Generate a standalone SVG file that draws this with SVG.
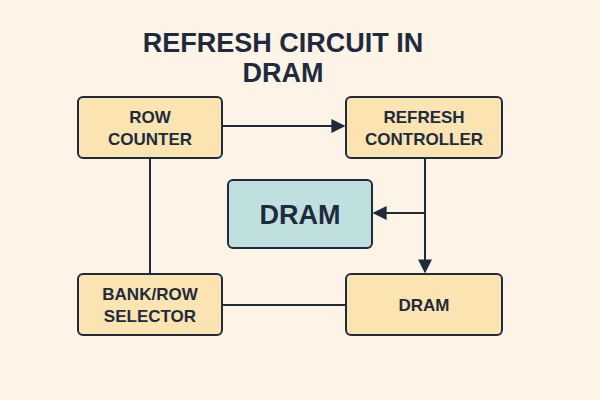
<svg xmlns="http://www.w3.org/2000/svg" width="600" height="400" viewBox="0 0 600 400">
<defs>
<marker id="ah" viewBox="0 0 10 10" refX="9" refY="5" markerWidth="7" markerHeight="7" orient="auto"><path d="M0,0 L10,5 L0,10 z" fill="#1f2b3d"/></marker>
<style>
.n{fill:#fbe4b2;stroke:#1f2b3d;stroke-width:2}
.b{fill:#bfe0df;stroke:#1f2b3d;stroke-width:2}
.t{font-family:"Liberation Sans",Arial,sans-serif;font-weight:bold;fill:#1f2b3d;text-anchor:middle}
.c{stroke:#1f2b3d;stroke-width:2;fill:none}
</style>
</defs>
<rect width="600" height="400" fill="#fdf3e6"/>
<text class="t" x="283" y="52" font-size="27">REFRESH CIRCUIT IN</text>
<text class="t" x="283" y="82" font-size="27">DRAM</text>
<g id="connectors">
<line class="c" x1="222" y1="126" x2="344" y2="126" marker-end="url(#ah)"/>
<line class="c" x1="425" y1="158" x2="425" y2="272" marker-end="url(#ah)"/>
<line class="c" x1="425" y1="213" x2="374" y2="213" marker-end="url(#ah)"/>
<line class="c" x1="150" y1="158" x2="150" y2="274"/>
<line class="c" x1="222" y1="305" x2="346" y2="305"/>
</g>
<g id="row-counter"><rect class="n" x="78" y="97" width="144" height="61" rx="5"/><text class="t" x="150" y="123" font-size="17">ROW</text><text class="t" x="150" y="145" font-size="17">COUNTER</text></g>
<g id="refresh-controller"><rect class="n" x="346" y="97" width="156" height="61" rx="5"/><text class="t" x="424" y="123" font-size="17">REFRESH</text><text class="t" x="424" y="145" font-size="17">CONTROLLER</text></g>
<g id="dram-main"><rect class="b" x="228" y="180" width="144" height="68" rx="5"/><text class="t" x="300" y="224" font-size="27">DRAM</text></g>
<g id="bank-row-selector"><rect class="n" x="78" y="274" width="144" height="61" rx="5"/><text class="t" x="150" y="300" font-size="17">BANK/ROW</text><text class="t" x="150" y="322" font-size="17">SELECTOR</text></g>
<g id="dram"><rect class="n" x="346" y="274" width="156" height="61" rx="5"/><text class="t" x="424" y="311" font-size="17">DRAM</text></g>
</svg>
